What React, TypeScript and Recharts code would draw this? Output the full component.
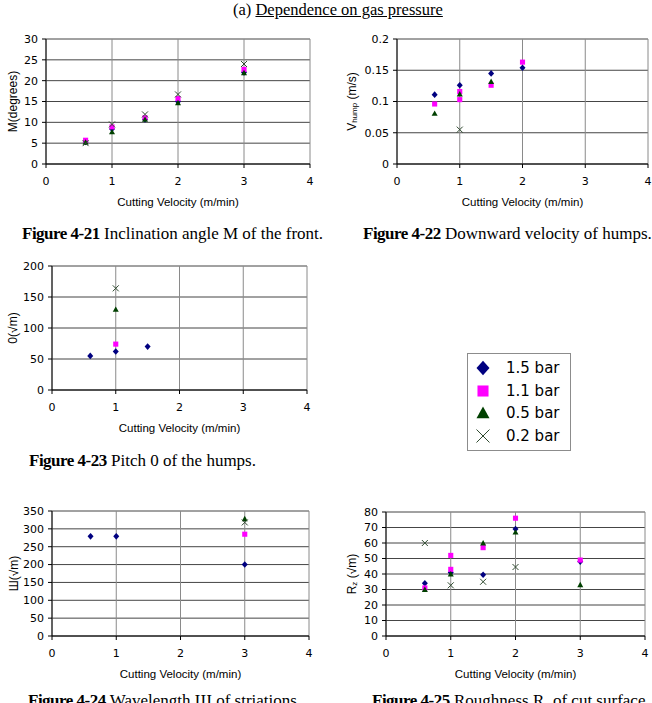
import React from 'react';
import { ScatterChart, Scatter, XAxis, YAxis, CartesianGrid, Legend } from 'recharts';

type Pt = { x: number; y: number };

// cutting velocity axis (m/min)
const velocityTicks = [0, 1, 2, 3, 4];

// Fig 4-21 inclination angle of the front (degrees)
const angle15: Pt[] = [{ x: 0.6, y: 5.3 }, { x: 1, y: 8.4 }, { x: 1.5, y: 10.7 }, { x: 2, y: 15 }, { x: 3, y: 22 }];
const angle11: Pt[] = [{ x: 0.6, y: 5.7 }, { x: 1, y: 8.9 }, { x: 1.5, y: 11.1 }, { x: 2, y: 15.7 }, { x: 3, y: 22.7 }];
const angle05: Pt[] = [{ x: 0.6, y: 5.2 }, { x: 1, y: 7.7 }, { x: 1.5, y: 10.7 }, { x: 2, y: 14.7 }, { x: 3, y: 21.9 }];
const angle02: Pt[] = [{ x: 0.6, y: 5.0 }, { x: 1, y: 9.5 }, { x: 1.5, y: 11.9 }, { x: 2, y: 16.7 }, { x: 3, y: 24 }];
const angleTicks = [0, 5, 10, 15, 20, 25, 30];

// Fig 4-22 downward velocity of humps (m/s)
const vel15: Pt[] = [{ x: 0.6, y: 0.111 }, { x: 1, y: 0.126 }, { x: 1.5, y: 0.145 }, { x: 2, y: 0.154 }];
const vel11: Pt[] = [{ x: 0.6, y: 0.096 }, { x: 1, y: 0.116 }, { x: 1, y: 0.103 }, { x: 1.5, y: 0.126 }, { x: 2, y: 0.163 }];
const vel05: Pt[] = [{ x: 0.6, y: 0.081 }, { x: 1, y: 0.112 }, { x: 1.5, y: 0.132 }];
const vel02: Pt[] = [{ x: 1, y: 0.055 }];
const velTicks = [0, 0.05, 0.1, 0.15, 0.2];

// Fig 4-23 pitch of the humps
const pitch15: Pt[] = [{ x: 0.6, y: 55 }, { x: 1, y: 62 }, { x: 1.5, y: 70 }];
const pitch11: Pt[] = [{ x: 1, y: 74 }];
const pitch05: Pt[] = [{ x: 1, y: 130 }];
const pitch02: Pt[] = [{ x: 1, y: 164 }];
const pitchTicks = [0, 50, 100, 150, 200];

// Fig 4-24 wavelength of striations
const wave15: Pt[] = [{ x: 0.6, y: 279 }, { x: 1, y: 279 }, { x: 3, y: 200 }];
const wave11: Pt[] = [{ x: 3, y: 285 }];
const wave05: Pt[] = [{ x: 3, y: 328 }];
const wave02: Pt[] = [{ x: 3, y: 318 }];
const waveTicks = [0, 50, 100, 150, 200, 250, 300, 350];

// Fig 4-25 roughness Rz
const rough15: Pt[] = [{ x: 0.6, y: 34 }, { x: 1, y: 41 }, { x: 1.5, y: 39.5 }, { x: 2, y: 69 }, { x: 3, y: 48 }];
const rough11: Pt[] = [{ x: 0.6, y: 31 }, { x: 1, y: 52 }, { x: 1, y: 43 }, { x: 1.5, y: 57 }, { x: 2, y: 76 }, { x: 3, y: 49 }];
const rough05: Pt[] = [{ x: 0.6, y: 30 }, { x: 1, y: 40 }, { x: 1.5, y: 60 }, { x: 2, y: 67 }, { x: 3, y: 33 }];
const rough02: Pt[] = [{ x: 0.6, y: 60 }, { x: 1, y: 32.7 }, { x: 1.5, y: 35 }, { x: 2, y: 44.5 }];
const roughTicks = [0, 10, 20, 30, 40, 50, 60, 70, 80];

const series = [
  { name: '1.5 bar', kind: 'diamond', color: '#000080' },
  { name: '1.1 bar', kind: 'square', color: '#ff00ff' },
  { name: '0.5 bar', kind: 'triangle', color: '#004000' },
  { name: '0.2 bar', kind: 'cross', color: '#2f4a2f' },
];

const TICK_FONT = { fontFamily: 'DejaVu Sans', fontSize: 11, fill: '#000' };
const TITLE_FONT = 'Liberation Sans';
const Y_AXIS_W = 40;
const X_AXIS_H = 50;

const Marker = ({ kind, cx, cy, color, s }: any) => {
  if (kind === 'diamond')
    return <polygon points={`${cx},${cy - s * 1.1} ${cx + s},${cy} ${cx},${cy + s * 1.1} ${cx - s},${cy}`} fill={color} />;
  if (kind === 'square') return <rect x={cx - s * 0.85} y={cy - s * 0.85} width={s * 1.7} height={s * 1.7} fill={color} />;
  if (kind === 'triangle')
    return <polygon points={`${cx},${cy - s} ${cx + s},${cy + s * 0.8} ${cx - s},${cy + s * 0.8}`} fill={color} />;
  return (
    <g stroke={color} strokeWidth={1}>
      <line x1={cx - s} y1={cy - s} x2={cx + s} y2={cy + s} />
      <line x1={cx - s} y1={cy + s} x2={cx + s} y2={cy - s} />
    </g>
  );
};

// legend entries kept in series order (1.5 bar first)
const LegendBox = ({ payload }: any) => {
  const items = series
    .map((s) => ({ s, p: (payload || []).find((p: any) => p.value === s.name) }))
    .filter((d) => d.p);
  return (
    <div style={{ width: 102, height: 93, border: '1px solid #8c8c8c', background: '#fff', paddingTop: 3 }}>
      {items.map(({ s, p }) => (
        <div key={s.name} style={{ display: 'flex', alignItems: 'center', height: 22.5 }}>
          <svg width={30} height={22}>
            <Marker kind={s.kind} cx={15} cy={11} color={p.color} s={6.5} />
          </svg>
          <span style={{ fontFamily: 'DejaVu Sans', fontSize: 15, marginLeft: 8, color: '#000' }}>{s.name}</span>
        </div>
      ))}
    </div>
  );
};

const Panel = ({ box, plot, yMax, yTicks, yTitle, titleGap, sets, children }: any) => {
  const [left, top, width, height] = box;
  const [x0, y0, x1, y1] = plot;
  const margin = {
    left: x0 - left - Y_AXIS_W,
    right: left + width - x1,
    top: y0 - top,
    bottom: top + height - y1 - X_AXIS_H,
  };
  return (
    <div style={{ position: 'absolute', left, top }}>
      <ScatterChart width={width} height={height} margin={margin}>
        <CartesianGrid vertical={false} stroke="#454545" />
        <CartesianGrid horizontal={false} stroke="#8a8a8a" />
        <XAxis
          type="number"
          dataKey="x"
          domain={[0, 4]}
          ticks={velocityTicks}
          interval={0}
          height={X_AXIS_H}
          tick={TICK_FONT}
          tickSize={4}
          tickMargin={9}
          stroke="#000"
          label={{
            content: ({ viewBox }: any) => (
              <text
                x={viewBox.x + viewBox.width / 2}
                y={viewBox.y + 38}
                textAnchor="middle"
                dominantBaseline="central"
                fontFamily={TITLE_FONT}
                fontSize={11.5}
              >
                Cutting Velocity (m/min)
              </text>
            ),
          }}
        />
        <YAxis
          type="number"
          dataKey="y"
          domain={[0, yMax]}
          ticks={yTicks}
          interval={0}
          width={Y_AXIS_W}
          tick={TICK_FONT}
          tickSize={4}
          tickMargin={4}
          stroke="#000"
          label={{
            content: ({ viewBox }: any) => {
              const tx = viewBox.x + viewBox.width - titleGap;
              const ty = viewBox.y + viewBox.height / 2;
              return (
                <text
                  x={tx}
                  y={ty}
                  transform={`rotate(-90 ${tx} ${ty})`}
                  textAnchor="middle"
                  dominantBaseline="central"
                  fontFamily={TITLE_FONT}
                  fontSize={12}
                >
                  {yTitle}
                </text>
              );
            },
          }}
        />
        {series.map((s, i) => (
          <Scatter
            key={s.name}
            name={s.name}
            data={sets[i]}
            fill={s.color}
            legendType="square"
            isAnimationActive={false}
            shape={(p: any) => <Marker kind={s.kind} cx={p.cx} cy={p.cy} color={s.color} s={3} />}
          />
        ))}
        {children}
      </ScatterChart>
    </div>
  );
};

const Caption = ({ left, top, num, children }: any) => (
  <div
    style={{
      position: 'absolute',
      left,
      top,
      fontFamily: 'Liberation Serif',
      fontSize: 17,
      lineHeight: '17px',
      whiteSpace: 'nowrap',
      color: '#000',
    }}
  >
    <b style={{ letterSpacing: -0.5 }}>{num}</b> {children}
  </div>
);

const Sub = ({ children }: any) => (
  <tspan fontSize={8} dy={2}>
    {children}
  </tspan>
);

export default function App() {
  return (
    <div style={{ position: 'absolute', left: 0, top: 0, width: 652, height: 703, background: '#fff', overflow: 'hidden' }}>
      <div
        style={{
          position: 'absolute',
          left: 233,
          top: 0,
          fontFamily: 'Liberation Serif',
          fontSize: 16.5,
          lineHeight: '19px',
          whiteSpace: 'nowrap',
        }}
      >
        (a) <span style={{ textDecoration: 'underline' }}>Dependence on gas pressure</span>
      </div>

      <Panel
        box={[0, 20, 330, 210]}
        plot={[46, 39, 310, 164]}
        yMax={30}
        yTicks={angleTicks}
        yTitle="M(degrees)"
        titleGap={33.5}
        sets={[angle15, angle11, angle05, angle02]}
      />
      <Panel
        box={[330, 20, 322, 210]}
        plot={[397, 39, 648, 164]}
        yMax={0.2}
        yTicks={velTicks}
        yTitle={
          <>
            V<Sub>hump</Sub>
            <tspan dy={-2}> (m/s)</tspan>
          </>
        }
        titleGap={45}
        sets={[vel15, vel11, vel05, vel02]}
      />
      <Panel
        box={[0, 250, 652, 200]}
        plot={[52, 266, 307, 390]}
        yMax={200}
        yTicks={pitchTicks}
        yTitle="0(√m)"
        titleGap={39}
        sets={[pitch15, pitch11, pitch05, pitch02]}
      >
        <Legend
          layout="vertical"
          align="center"
          verticalAlign="middle"
          content={LegendBox}
          wrapperStyle={{ left: 467, top: 103, width: 104 }}
        />
      </Panel>
      <Panel
        box={[0, 495, 330, 200]}
        plot={[52, 511, 309, 636]}
        yMax={350}
        yTicks={waveTicks}
        yTitle="Ш(√m)"
        titleGap={38}
        sets={[wave15, wave11, wave05, wave02]}
      />
      <Panel
        box={[330, 495, 322, 200]}
        plot={[386, 512, 645, 636]}
        yMax={80}
        yTicks={roughTicks}
        yTitle={
          <>
            R<Sub>z</Sub>
            <tspan dy={-2}> (√m)</tspan>
          </>
        }
        titleGap={34}
        sets={[rough15, rough11, rough05, rough02]}
      />

      <Caption left={22} top={225} num="Figure 4-21">
        Inclination angle M of the front.
      </Caption>
      <Caption left={363} top={225} num="Figure 4-22">
        Downward velocity of humps.
      </Caption>
      <Caption left={29} top={452} num="Figure 4-23">
        Pitch 0 of the humps.
      </Caption>
      <Caption left={28} top={692} num="Figure 4-24">
        Wavelength Ш of striations.
      </Caption>
      <Caption left={372} top={692} num="Figure 4-25">
        Roughness R<sub style={{ fontSize: 10 }}>z</sub> of cut surface.
      </Caption>
    </div>
  );
}
